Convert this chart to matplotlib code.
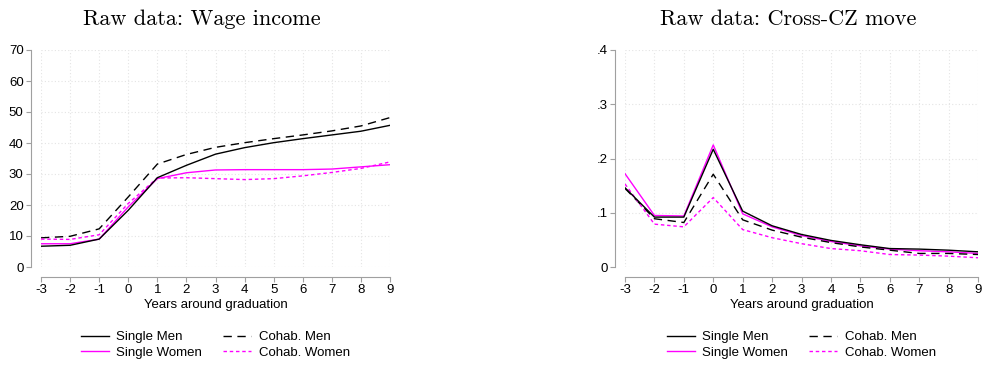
import matplotlib.pyplot as plt
import numpy as np

years = [-3, -2, -1, 0, 1, 2, 3, 4, 5, 6, 7, 8, 9]

# wage income (thousands)
wage_single_men = [6.7, 7.0, 9.0, 18.3, 28.8, 32.8, 36.4, 38.5, 40.1, 41.4, 42.6, 43.8, 45.7]
wage_cohab_men = [9.4, 9.9, 12.3, 22.6, 33.2, 36.3, 38.6, 40.1, 41.4, 42.6, 43.9, 45.5, 48.2]
wage_single_women = [7.5, 7.5, 9.0, 19.4, 28.5, 30.4, 31.3, 31.4, 31.4, 31.4, 31.6, 32.3, 33.0]
wage_cohab_women = [9.0, 8.9, 10.4, 20.5, 28.7, 28.8, 28.5, 28.2, 28.5, 29.4, 30.5, 31.8, 33.9]

# cross-CZ move share
move_single_men = [0.146, 0.092, 0.092, 0.217, 0.103, 0.076, 0.060, 0.049, 0.041, 0.034, 0.033, 0.031, 0.028]
move_cohab_men = [0.145, 0.089, 0.082, 0.171, 0.087, 0.068, 0.055, 0.045, 0.037, 0.031, 0.025, 0.025, 0.023]
move_single_women = [0.172, 0.095, 0.094, 0.225, 0.098, 0.074, 0.058, 0.047, 0.039, 0.033, 0.030, 0.028, 0.025]
move_cohab_women = [0.153, 0.079, 0.074, 0.128, 0.069, 0.054, 0.043, 0.034, 0.030, 0.023, 0.022, 0.020, 0.017]

wage_ticks = [0, 10, 20, 30, 40, 50, 60, 70]
wage_labels = ["0", "10", "20", "30", "40", "50", "60", "70"]
move_ticks = [0, 0.1, 0.2, 0.3, 0.4]
move_labels = ["0", ".1", ".2", ".3", ".4"]

plt.rcParams['font.family'] = ['Liberation Sans', 'DejaVu Sans']
magenta = "#ff00ff"

fig = plt.figure(figsize=(9.84, 3.67), dpi=100)
ax1 = fig.add_axes([41/984, 100/367, 349/984, 217/367])
ax2 = fig.add_axes([625/984, 100/367, 353/984, 217/367])


def panel(ax, title, sm, cm, sw, cw, ticks, labels, ymax):
    ax.plot(years, sm, color="black", lw=1.0, label="Single Men", zorder=4)
    ax.plot(years, sw, color=magenta, lw=1.0, label="Single Women", zorder=3)
    ax.plot(years, cm, color="black", lw=1.0, ls=(0, (6, 4)), label="Cohab. Men", zorder=3)
    ax.plot(years, cw, color=magenta, lw=1.0, ls=(0, (2.5, 2)), label="Cohab. Women", zorder=3)
    ax.set_xlim(-3, 9)
    ax.set_ylim(0, ymax)
    ax.set_xticks(years)
    ax.set_xticklabels([str(y) for y in years])
    ax.set_yticks(ticks)
    ax.set_yticklabels(labels)
    ax.grid(True, color="#e4e4e4", ls=(0, (1, 2)), lw=0.8)
    for s in ["top", "right"]:
        ax.spines[s].set_visible(False)
    for s in ["left", "bottom"]:
        ax.spines[s].set_color("#a0a0a0")
        ax.spines[s].set_position(("outward", 7))
    ax.tick_params(colors="#a0a0a0", labelcolor="black", labelsize=9.5, length=3.5, pad=2)
    ax.set_xlabel("Years around graduation", fontsize=9.5, labelpad=2)
    ax.set_title(title, family="cmr10", fontsize=16, pad=18, x=0.462)
    ax.legend(loc="center", bbox_to_anchor=(0.5, -0.36), ncol=2, frameon=False,
              fontsize=9.5, handlelength=2.1, columnspacing=1.6, labelspacing=0.25,
              handletextpad=0.6)


panel(ax1, "Raw data: Wage income", wage_single_men, wage_cohab_men,
      wage_single_women, wage_cohab_women, wage_ticks, wage_labels, 70)
panel(ax2, "Raw data: Cross-CZ move", move_single_men, move_cohab_men,
      move_single_women, move_cohab_women, move_ticks, move_labels, 0.4)

fig.savefig("out.png", dpi=100)
